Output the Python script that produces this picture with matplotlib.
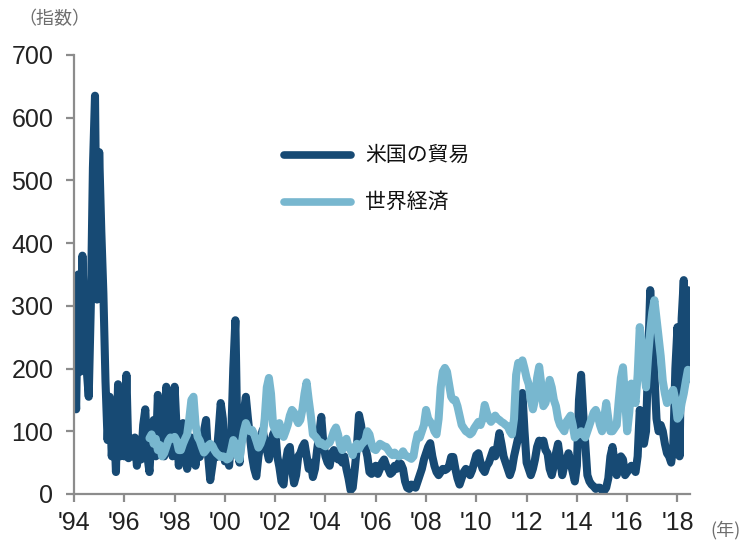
import numpy as np
import matplotlib.pyplot as plt

plt.rcParams['font.family'] = ['Liberation Sans', 'Noto Sans CJK JP', 'DejaVu Sans']

# 米国の貿易（月次, 1994年1月〜2018年6月）
us_trade = [
    230, 135, 350, 195, 380, 260, 200, 155, 300, 520, 635, 310,   # 1994
    545, 420, 320, 180, 86, 155, 60, 120, 35, 175, 60, 150,      # 1995
    60, 190, 57, 88, 60, 90, 45, 80, 55, 110, 135, 60,           # 1996
    35, 100, 118, 60, 158, 75, 100, 60, 171, 120, 80, 60,        # 1997
    171, 100, 45, 80, 113, 70, 40, 60, 90, 70, 45, 80,           # 1998
    59, 75, 100, 118, 60, 22, 45, 70, 59, 100, 145, 120,         # 1999
    52, 60, 45, 90, 200, 277, 80, 50, 110, 129, 155, 120,        # 2000
    90, 59, 40, 28, 60, 80, 102, 85, 70, 55, 80, 95,             # 2001
    102, 60, 43, 20, 15, 50, 70, 75, 40, 17, 30, 60,             # 2002
    65, 75, 81, 60, 40, 50, 27, 40, 70, 95, 123, 80,             # 2003
    60, 50, 45, 65, 70, 60, 55, 70, 50, 60, 40, 25,              # 2004
    6, 10, 40, 75, 126, 110, 80, 75, 60, 35, 32, 40,             # 2005
    45, 32, 40, 50, 55, 45, 40, 32, 35, 45, 40, 50,              # 2006
    48, 40, 20, 10, 8, 15, 12, 10, 20, 30, 40, 55,               # 2007
    65, 75, 81, 60, 45, 35, 30, 35, 40, 38, 40, 45,              # 2008
    59, 59, 40, 25, 15, 25, 35, 40, 38, 30, 38, 50,              # 2009
    62, 65, 50, 40, 35, 45, 50, 60, 70, 60, 75, 97,              # 2010
    80, 60, 50, 40, 30, 40, 60, 75, 90, 130, 161, 100,           # 2011
    50, 40, 30, 40, 55, 75, 85, 80, 85, 70, 65, 40,              # 2012
    30, 45, 65, 80, 55, 30, 45, 55, 65, 50, 35, 20,              # 2013
    45, 150, 190, 130, 80, 30, 20, 15, 12, 8, 10, 10,            # 2014
    6, 5, 10, 25, 60, 75, 50, 30, 40, 60, 55, 30,                # 2015
    35, 40, 45, 40, 35, 60, 134, 110, 80, 100, 210, 325,         # 2016
    250, 190, 120, 100, 110, 100, 80, 65, 60, 50, 75, 200,       # 2017
    266, 60, 280, 341, 180, 325,                                 # 2018
]

# 世界経済（月次, 1997年1月〜2018年6月）
world_econ = [
    89, 95, 80, 88, 70, 78, 60, 65, 75, 85, 90, 88,              # 1997
    91, 85, 70, 70, 80, 88, 95, 120, 150, 155, 110, 91,          # 1998
    85, 75, 66, 70, 77, 80, 77, 70, 65, 62, 59, 60,              # 1999
    59, 55, 57, 70, 86, 80, 60, 55, 80, 100, 113, 105,           # 2000
    100, 102, 95, 85, 74, 80, 90, 120, 170, 185, 160, 110,       # 2001
    102, 95, 113, 95, 91, 100, 110, 125, 134, 130, 120, 113,     # 2002
    118, 135, 160, 178, 150, 125, 95, 92, 88, 80, 82, 78,        # 2003
    76, 80, 82, 90, 100, 106, 95, 78, 70, 80, 88, 75,            # 2004
    70, 62, 75, 80, 72, 78, 82, 85, 100, 95, 80, 72,             # 2005
    70, 75, 80, 78, 76, 75, 70, 65, 62, 66, 62, 60,              # 2006
    62, 68, 62, 60, 58, 56, 60, 80, 95, 90, 100, 110,            # 2007
    134, 120, 115, 110, 100, 95, 120, 170, 195, 201, 195, 175,   # 2008
    155, 150, 150, 140, 125, 110, 105, 100, 98, 95, 98, 105,     # 2009
    110, 115, 110, 120, 142, 130, 120, 115, 120, 125, 120, 118,  # 2010
    115, 113, 110, 108, 100, 95, 120, 190, 209, 205, 213, 200,   # 2011
    185, 175, 150, 135, 150, 185, 203, 175, 140, 145, 160, 182,  # 2012
    170, 150, 140, 120, 110, 105, 100, 115, 120, 125, 110, 90,   # 2013
    95, 95, 100, 95, 90, 100, 110, 120, 130, 134, 125, 110,      # 2014
    100, 120, 145, 120, 100, 100, 105, 110, 150, 185, 202, 150,  # 2015
    100, 130, 176, 160, 145, 190, 266, 240, 200, 170, 220, 260,  # 2016
    290, 309, 280, 250, 220, 180, 160, 145, 150, 160, 166, 150,  # 2017
    120, 125, 145, 160, 180, 198,                                # 2018
]

year_ticks = list(range(1994, 2019, 2))
year_labels = ["'%02d" % (y % 100) for y in year_ticks]

dark = '#174a74'
light = '#78b7cf'

t_us = 1994 + np.arange(len(us_trade)) / 12
t_world = 1997 + np.arange(len(world_econ)) / 12

fig = plt.figure(figsize=(7.48, 5.42), dpi=100)
ax = fig.add_axes([0.099, 0.0886, 0.8235, 0.81])

ax.plot(t_us, us_trade, color=dark, lw=5.8, solid_joinstyle='round',
        solid_capstyle='round', zorder=2)
ax.plot(t_world, world_econ, color=light, lw=5.8, solid_joinstyle='round',
        solid_capstyle='round', zorder=3)

ax.set_xlim(1994, 2018.5)
ax.set_ylim(0, 700)
ax.set_yticks(range(0, 701, 100))
ax.set_xticks(year_ticks)
ax.set_xticklabels(year_labels)

for side in ['top', 'right']:
    ax.spines[side].set_visible(False)
for side in ['left', 'bottom']:
    ax.spines[side].set_color('#8c8c8c')
    ax.spines[side].set_linewidth(1.6)
ax.tick_params(colors='#8c8c8c', width=1.6, length=6, labelcolor='#222222',
               labelsize=18)
ax.tick_params(axis='y', pad=9)
ax.tick_params(axis='x', pad=6)

# 凡例
fig.lines.append(plt.Line2D([0.380, 0.469], [0.714, 0.714], color=dark, lw=5.5,
                            solid_capstyle='round', transform=fig.transFigure))
fig.lines.append(plt.Line2D([0.380, 0.469], [0.627, 0.627], color=light, lw=5.5,
                            solid_capstyle='round', transform=fig.transFigure))
fig.text(0.488, 0.714, '米国の貿易', fontsize=15, color='#111111',
         family=['Noto Sans CJK JP'], va='center')
fig.text(0.488, 0.627, '世界経済', fontsize=15, color='#111111',
         family=['Noto Sans CJK JP'], va='center')

fig.text(0.024, 0.965, '（指数）', fontsize=13, color='#6e6e6e',
         family=['Noto Sans CJK JP'], va='center')
fig.text(0.950, 0.022, '(年)', fontsize=13, color='#6e6e6e',
         family=['Noto Sans CJK JP'], va='center')

fig.savefig('out.png', dpi=100)
